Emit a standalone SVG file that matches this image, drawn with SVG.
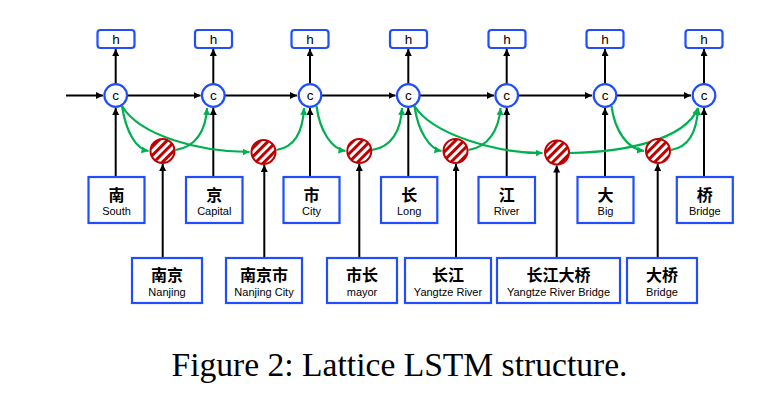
<svg xmlns="http://www.w3.org/2000/svg" width="773" height="414" viewBox="0 0 773 414">
<style>
.bg{fill:#ffffff}
.box{fill:#ffffff;stroke:#1f4dff;stroke-width:2.2}
.cell{fill:#ffffff;stroke:#1f4dff;stroke-width:2.2}
.word{fill:url(#hatch);stroke:#c00000;stroke-width:2}
.blk{fill:none;stroke:#000000;stroke-width:2}
.grn{fill:none;stroke:#00b050;stroke-width:2.2}
.zh{font-family:"Noto Sans CJK SC","Noto Sans",sans-serif;font-weight:bold;font-size:16px;fill:#000;text-anchor:middle}
.en{font-family:"Liberation Sans","Open Sans",sans-serif;font-size:11px;fill:#000;text-anchor:middle}
.lt{font-family:"Liberation Sans","Open Sans",sans-serif;font-size:13.5px;fill:#000;text-anchor:middle}
.cap{font-family:"Liberation Serif","Times New Roman",serif;font-size:33.6px;fill:#000}
</style>
<defs>
<pattern id="hatch" patternUnits="userSpaceOnUse" width="6" height="6" patternTransform="rotate(45)">
<rect x="0" y="0" width="6" height="6" fill="#ffffff"/>
<rect x="0" y="0" width="3" height="6" fill="#c00000"/>
</pattern>
<marker id="ab" markerUnits="userSpaceOnUse" markerWidth="8" markerHeight="8" refX="7" refY="3.5" orient="auto">
<path d="M0,0 L7,3.5 L0,7 z" fill="#000000"/>
</marker>
<marker id="ag" markerUnits="userSpaceOnUse" markerWidth="8" markerHeight="8" refX="7" refY="3.5" orient="auto">
<path d="M0,0 L7,3.5 L0,7 z" fill="#00b050"/>
</marker>
</defs>
<rect class="bg" x="0" y="0" width="773" height="414"/>

<g id="connectors">
<!-- horizontal cell chain -->
<line class="blk" x1="66" y1="95.5" x2="103" y2="95.5" marker-end="url(#ab)"/>
<line class="blk" x1="127.5" y1="95.5" x2="200.5" y2="95.5" marker-end="url(#ab)"/>
<line class="blk" x1="225" y1="95.5" x2="297" y2="95.5" marker-end="url(#ab)"/>
<line class="blk" x1="322" y1="95.5" x2="395.5" y2="95.5" marker-end="url(#ab)"/>
<line class="blk" x1="420" y1="95.5" x2="494" y2="95.5" marker-end="url(#ab)"/>
<line class="blk" x1="518.5" y1="95.5" x2="592" y2="95.5" marker-end="url(#ab)"/>
<line class="blk" x1="617" y1="95.5" x2="691" y2="95.5" marker-end="url(#ab)"/>
<!-- cell to h -->
<line class="blk" x1="115.7" y1="84" x2="115.7" y2="49" marker-end="url(#ab)"/>
<line class="blk" x1="213.3" y1="84" x2="213.3" y2="49" marker-end="url(#ab)"/>
<line class="blk" x1="310" y1="84" x2="310" y2="49" marker-end="url(#ab)"/>
<line class="blk" x1="408.3" y1="84" x2="408.3" y2="49" marker-end="url(#ab)"/>
<line class="blk" x1="506.7" y1="84" x2="506.7" y2="49" marker-end="url(#ab)"/>
<line class="blk" x1="605" y1="84" x2="605" y2="49" marker-end="url(#ab)"/>
<line class="blk" x1="704" y1="84" x2="704" y2="49" marker-end="url(#ab)"/>
<!-- char to cell -->
<line class="blk" x1="115.7" y1="177" x2="115.7" y2="108" marker-end="url(#ab)"/>
<line class="blk" x1="213.3" y1="177" x2="213.3" y2="108" marker-end="url(#ab)"/>
<line class="blk" x1="310" y1="177" x2="310" y2="108" marker-end="url(#ab)"/>
<line class="blk" x1="408.3" y1="177" x2="408.3" y2="108" marker-end="url(#ab)"/>
<line class="blk" x1="506.7" y1="177" x2="506.7" y2="108" marker-end="url(#ab)"/>
<line class="blk" x1="605" y1="177" x2="605" y2="108" marker-end="url(#ab)"/>
<line class="blk" x1="704" y1="177" x2="704" y2="108" marker-end="url(#ab)"/>
<!-- word to word cell -->
<line class="blk" x1="162.7" y1="258" x2="162.7" y2="164" marker-end="url(#ab)"/>
<line class="blk" x1="264.3" y1="258" x2="264.3" y2="165" marker-end="url(#ab)"/>
<line class="blk" x1="359.3" y1="258" x2="359.3" y2="164" marker-end="url(#ab)"/>
<line class="blk" x1="456" y1="258" x2="456" y2="164" marker-end="url(#ab)"/>
<line class="blk" x1="556.7" y1="258" x2="556.7" y2="165.5" marker-end="url(#ab)"/>
<line class="blk" x1="657.7" y1="258" x2="657.7" y2="164" marker-end="url(#ab)"/>
<!-- green: cell to word cell -->
<path class="grn" d="M122,106 C126,132 136,149 148.5,151" marker-end="url(#ag)"/>
<path class="grn" d="M122,106 C140,136 200,152 249.5,152" marker-end="url(#ag)"/>
<path class="grn" d="M316.5,106 C320,132 332,149 345.5,151" marker-end="url(#ag)"/>
<path class="grn" d="M414.5,106 C418,132 430,149 441.5,151" marker-end="url(#ag)"/>
<path class="grn" d="M414.5,106 C432,134 495,153 542.5,153" marker-end="url(#ag)"/>
<path class="grn" d="M611.5,106 C615,132 628,149 644,151" marker-end="url(#ag)"/>
<!-- green: word cell to cell -->
<path class="grn" d="M175.5,150 C196,147 206,130 207,108" marker-end="url(#ag)"/>
<path class="grn" d="M276.5,150 C296,147 303,130 304,108" marker-end="url(#ag)"/>
<path class="grn" d="M372,150 C392,147 401,130 402,108" marker-end="url(#ag)"/>
<path class="grn" d="M468.5,150 C488,147 499,130 500.5,108" marker-end="url(#ag)"/>
<path class="grn" d="M570,153 C625,152 685,140 698,108" marker-end="url(#ag)"/>
<path class="grn" d="M671,150 C690,147 697,130 698,108" marker-end="url(#ag)"/>
</g>

<g id="h0"><rect class="box" x="97.5" y="30" width="37" height="18" rx="3"/><text class="lt" x="116" y="44">h</text></g>
<g id="h1"><rect class="box" x="195" y="30" width="37" height="18" rx="3"/><text class="lt" x="213.5" y="44">h</text></g>
<g id="h2"><rect class="box" x="291.5" y="30" width="37" height="18" rx="3"/><text class="lt" x="310" y="44">h</text></g>
<g id="h3"><rect class="box" x="390" y="30" width="37" height="18" rx="3"/><text class="lt" x="408.5" y="44">h</text></g>
<g id="h4"><rect class="box" x="488.5" y="30" width="37" height="18" rx="3"/><text class="lt" x="507" y="44">h</text></g>
<g id="h5"><rect class="box" x="586.5" y="30" width="37" height="18" rx="3"/><text class="lt" x="605" y="44">h</text></g>
<g id="h6"><rect class="box" x="685.5" y="30" width="37" height="18" rx="3"/><text class="lt" x="704" y="44">h</text></g>

<g id="c0"><circle class="cell" cx="115.7" cy="95.5" r="11.3"/><text class="lt" x="115.7" y="100">c</text></g>
<g id="c1"><circle class="cell" cx="213.3" cy="95.5" r="11.3"/><text class="lt" x="213.3" y="100">c</text></g>
<g id="c2"><circle class="cell" cx="310" cy="95.5" r="11.3"/><text class="lt" x="310" y="100">c</text></g>
<g id="c3"><circle class="cell" cx="408.3" cy="95.5" r="11.3"/><text class="lt" x="408.3" y="100">c</text></g>
<g id="c4"><circle class="cell" cx="506.7" cy="95.5" r="11.3"/><text class="lt" x="506.7" y="100">c</text></g>
<g id="c5"><circle class="cell" cx="605" cy="95.5" r="11.3"/><text class="lt" x="605" y="100">c</text></g>
<g id="c6"><circle class="cell" cx="704" cy="95.5" r="11.3"/><text class="lt" x="704" y="100">c</text></g>

<g id="w0"><circle class="word" cx="162.5" cy="151" r="12"/></g>
<g id="w1"><circle class="word" cx="263.5" cy="152" r="12"/></g>
<g id="w2"><circle class="word" cx="359.3" cy="151" r="12"/></g>
<g id="w3"><circle class="word" cx="455.5" cy="151" r="12"/></g>
<g id="w4"><circle class="word" cx="557" cy="152.5" r="12"/></g>
<g id="w5"><circle class="word" cx="658" cy="151" r="12"/></g>

<g id="ch0"><rect class="box" x="88.5" y="177" width="56" height="46"/><text class="zh" x="116.5" y="200.5">南</text><text class="en" x="116.5" y="215.3">South</text></g>
<g id="ch1"><rect class="box" x="186" y="177" width="56.5" height="46"/><text class="zh" x="214.3" y="200.5">京</text><text class="en" x="214.3" y="215.3">Capital</text></g>
<g id="ch2"><rect class="box" x="283.5" y="177" width="56" height="46"/><text class="zh" x="311.5" y="200.5">市</text><text class="en" x="311.5" y="215.3">City</text></g>
<g id="ch3"><rect class="box" x="381" y="177" width="56.3" height="46"/><text class="zh" x="409.2" y="200.5">长</text><text class="en" x="409.2" y="215.3">Long</text></g>
<g id="ch4"><rect class="box" x="478.5" y="177" width="56.5" height="46"/><text class="zh" x="506.7" y="200.5">江</text><text class="en" x="506.7" y="215.3">River</text></g>
<g id="ch5"><rect class="box" x="577.5" y="177" width="56" height="46"/><text class="zh" x="605.5" y="200.5">大</text><text class="en" x="605.5" y="215.3">Big</text></g>
<g id="ch6"><rect class="box" x="676.8" y="177" width="56" height="46"/><text class="zh" x="704.8" y="200.5">桥</text><text class="en" x="704.8" y="215.3">Bridge</text></g>

<g id="wd0"><rect class="box" x="132" y="258" width="70" height="45"/><text class="zh" x="167" y="281">南京</text><text class="en" x="167" y="296">Nanjing</text></g>
<g id="wd1"><rect class="box" x="226" y="258" width="76" height="45"/><text class="zh" x="264" y="281">南京市</text><text class="en" x="264" y="296">Nanjing City</text></g>
<g id="wd2"><rect class="box" x="327" y="258" width="70" height="45"/><text class="zh" x="362" y="281">市长</text><text class="en" x="362" y="296">mayor</text></g>
<g id="wd3"><rect class="box" x="405" y="258" width="86" height="45"/><text class="zh" x="448" y="281">长江</text><text class="en" x="448" y="296">Yangtze River</text></g>
<g id="wd4"><rect class="box" x="497" y="258" width="123" height="45"/><text class="zh" x="558.5" y="281">长江大桥</text><text class="en" x="558.5" y="296">Yangtze River Bridge</text></g>
<g id="wd5"><rect class="box" x="627" y="258" width="70" height="45"/><text class="zh" x="662" y="281">大桥</text><text class="en" x="662" y="296">Bridge</text></g>

<text class="cap" x="171.5" y="376">Figure 2: Lattice LSTM structure.</text>
</svg>
